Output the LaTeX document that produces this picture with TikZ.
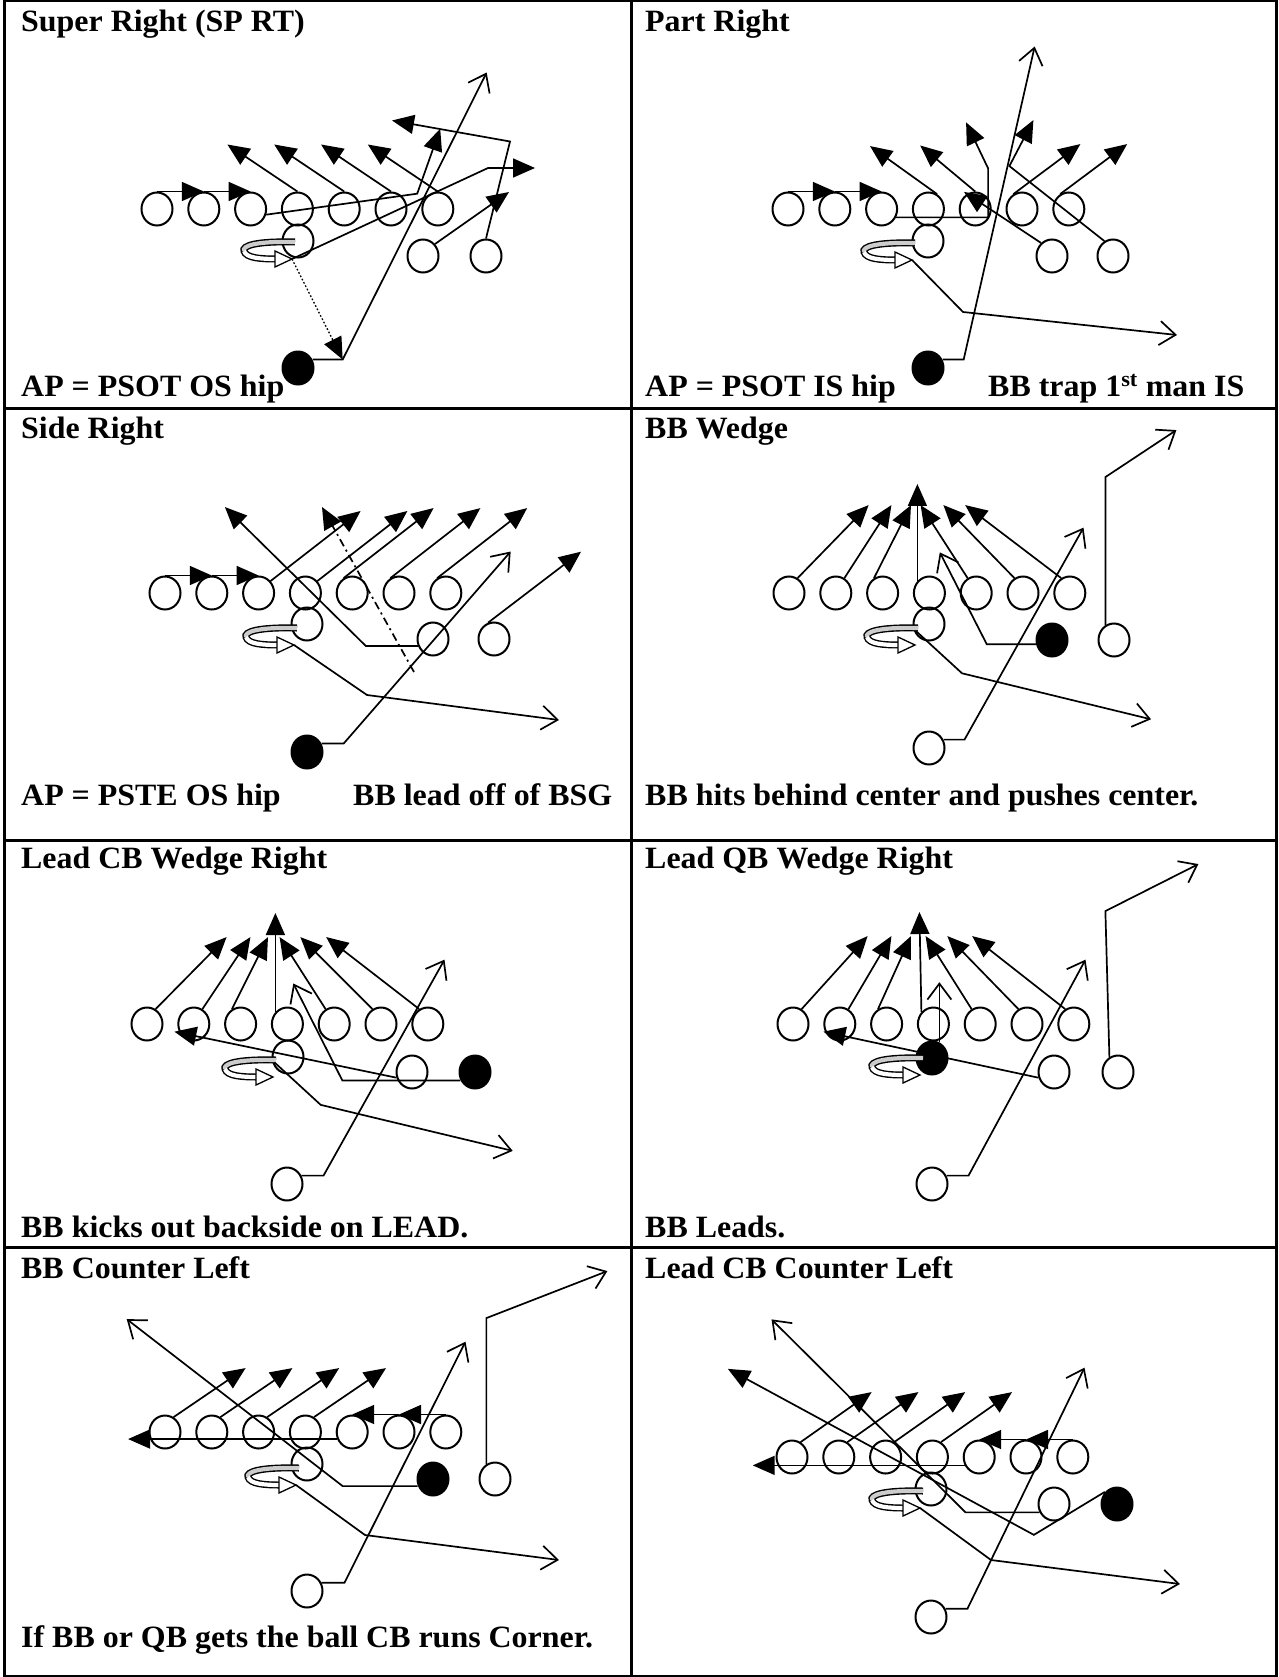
\documentclass[tikz,border=0pt]{standalone}
\usepackage{fontspec}
\setmainfont{Liberation Serif}[FakeStretch=1.03]
\usetikzlibrary{arrows.meta,shapes.geometric}

\begin{document}
\begin{tikzpicture}[
    x=1pt, y=-1pt,
    player/.style={ellipse, draw, line width=2pt, minimum width=31pt, minimum height=33pt, inner sep=0pt},
    ball/.style={ellipse, fill, minimum width=33pt, minimum height=35pt, inner sep=0pt},
    run/.style={line width=1.7pt, -{Straight Barb[length=16pt,width=24pt]}},
    block/.style={line width=1.7pt, -{Triangle[length=22pt,width=19pt]}},
    ptext/.style={anchor=base west, inner sep=0pt, font={\fontsize{31}{34}\selectfont\bfseries}},
    spin/.pic={
        \draw[line width=7pt] (3,-17) .. controls (-37,-18) and (-50,-13) .. (-48,-8)
            .. controls (-46,-1) and (-32,0) .. (-15,0);
        \draw[line width=4.2pt, gray!40] (3,-17) .. controls (-37,-18) and (-50,-13) .. (-48,-8);
        \draw[line width=4.2pt, white] (-48,-8) .. controls (-46,-1) and (-32,0) .. (-15,0);
        \draw[line width=1.3pt, fill=white] (-17,-8) -- (0,0) -- (-17,8) -- cycle;
    }
    ]
  \useasboundingbox (0,0) rectangle (1278,1677);
  % frame
  \draw[line width=3pt] (4,1) rectangle (1276,1676);
  \draw[line width=3pt] (631,1) -- (631,1676);
  \foreach \y in {408,840,1247} \draw[line width=3pt] (4,\y) -- (1276,\y);

  % texts
  \node[ptext] at (21,32) {Super Right (SP RT)};
  \node[ptext] at (645,32) {Part Right};
  \node[ptext] at (21,396) {AP = PSOT OS hip};
  \node[ptext] at (645,396) {AP = PSOT IS hip};
  \node[ptext] at (988,396) {BB trap 1\textsuperscript{st} man IS};
  \node[ptext] at (21,438) {Side Right};
  \node[ptext] at (645,438) {BB Wedge};
  \node[ptext] at (21,805) {AP = PSTE OS hip};
  \node[ptext] at (353,805) {BB lead off of BSG};
  \node[ptext] at (645,805) {BB hits behind center and pushes center.};
  \node[ptext] at (21,868) {Lead CB Wedge Right};
  \node[ptext] at (645,868) {Lead QB Wedge Right};
  \node[ptext] at (21,1237) {BB kicks out backside on LEAD.};
  \node[ptext] at (645,1237) {BB Leads.};
  \node[ptext] at (21,1278) {BB Counter Left};
  \node[ptext] at (645,1278) {Lead CB Counter Left};
  \node[ptext] at (21,1647) {If BB or QB gets the ball CB runs Corner.};

  % Super Right
  \foreach \i in {1,...,7} \node[player] (A\i) at ({157+46.8*(\i-1)},209) {};
  \node[player] (AQ) at (298,241) {};
  \node[player] (AB1) at (423,256) {};
  \node[player] (AB2) at (486,256) {};
  \node[ball] (AF) at (298,368) {};
  \coordinate (AT) at (292,259);
  \draw[block] (A1.north) -- (A2.north);
  \draw[block] (A2.north) -- (A3.north);
  \foreach \i in {4,...,7} \draw[block] (A\i.north) -- ++(-70,-47);
  \draw[block] (A3.-20) -- ++(151,-21) -- ++(23,-65);
  \draw[block] (AB1.45) -- ++(74,-52);
  \draw[block] (AB2.north) -- ++(24,-97) -- ++(-118,-21);
  \draw[block] (AT) -- ++(196,-91) -- ++(47,0);
  \draw[run] (AF.30) -- ++(30,0) coordinate (Ac) -- ++(144,-287);
  \draw[block, dotted, line width=1.3pt] (AT) -- (Ac);
  \pic at (AT) {spin};

  % Part Right
  \foreach \i in {1,...,7} \node[player] (B\i) at ({788+46.8*(\i-1)},209) {};
  \node[player] (BQ) at (928,241) {};
  \node[player] (BB1) at (1052,256) {};
  \node[player] (BB2) at (1113,256) {};
  \node[ball] (BF) at (928,368) {};
  \coordinate (BT) at (912,260);
  \draw[block] (B1.north) -- (B2.north);
  \draw[block] (B2.north) -- (B3.north);
  \draw[block] (B4.60) -- ++(-67,-48);
  \draw[block] (B5.north) -- ++(-55,-46);
  \draw[block] (B3.-30) -- ++(92,0) -- ++(0,-49) -- ++(-22,-46);
  \draw[block] (BB2.120) -- ++(-95,-75) -- ++(24,-46);
  \draw[block] (B6.120) -- ++(67,-50);
  \draw[block] (B7.120) -- ++(67,-50);
  \draw[block] (BB1.130) -- ++(-77,-51);
  \draw[run] (BF.30) -- ++(21,0) -- ++(71,-313);
  \draw[run] (BT) -- ++(51,52) -- ++(214,23);
  \pic at (BT) {spin};

  % Side Right
  \foreach \i in {1,...,7} \node[player] (C\i) at ({165+46.8*(\i-1)},593) {};
  \node[player] (CQ) at (307,624) {};
  \node[player] (CB1) at (433,639) {};
  \node[player] (CB2) at (494,639) {};
  \node[ball] (CF) at (307,752) {};
  \coordinate (CT) at (294,645);
  \draw[block] (C1.north) -- (C2.north);
  \draw[block] (C2.north) -- (C3.north);
  \foreach \a in {C3.45,C4.45,C5.120,C6.120,C7.120} \draw[block] (\a) -- ++(90,-70);
  \draw[block, dash pattern=on 8pt off 4pt on 2pt off 4pt] ([shift={(-19,33)}]CB1.center) -- ++(-92,-165);
  \draw[block] (CB1.-155) -- ++(-52,0) -- ++(-141,-139);
  \draw[block] (CB2.110) -- ++(93,-71);
  \draw[run] (CF.30) -- ++(22,0) -- ++(167,-192);
  \draw[run] (CT) -- ++(73,50) -- ++(192,25);
  \pic at (CT) {spin};

  % BB Wedge
  \foreach \i in {1,...,7} \node[player] (D\i) at ({789+46.8*(\i-1)},593) {};
  \node[player] (DQ) at (929,624) {};
  \node[ball] (DF) at (1052,640) {};
  \node[player] (DB1) at (1114,640) {};
  \node[player] (DB2) at (929,748) {};
  \coordinate (DT) at (915,645);
  \draw[block] (D1.60) -- ++(71,-73);
  \draw[block] (D2.60) -- ++(47,-73);
  \draw[block] (D3.120) -- ++(37,-73);
  \draw[block] (D4.135) -- ++(0,-97);
  \draw[block] (D5.120) -- ++(-47,-73);
  \draw[block] (D6.120) -- ++(-71,-73);
  \draw[block] (D7.120) -- ++(-96,-73);
  \draw[run] (DF.-165) -- ++(-49,0) -- ++(-47,-92);
  \draw[run] (DB1.120) -- ++(0,-148) -- ++(71,-47);
  \draw[run] (DB2.30) -- ++(21,0) -- ++(119,-212);
  \draw[run] (DQ.-165) -- ++(49,45) -- ++(189,46);
  \pic at (DT) {spin};

  % Lead CB Wedge Right
  \foreach \i in {1,...,7} \node[player] (E\i) at ({147+46.8*(\i-1)},1024) {};
  \node[player] (EQ) at (288,1057) {};
  \node[player] (EB1) at (412,1072) {};
  \node[ball] (EF) at (475,1072) {};
  \node[player] (EB2) at (287,1184) {};
  \coordinate (ET) at (273,1077);
  \draw[block] (E1.60) -- ++(71,-72);
  \draw[block] (E2.60) -- ++(48,-72);
  \draw[block] (E3.120) -- ++(36,-72);
  \draw[block] (E4.135) -- ++(0,-99);
  \draw[block] (E5.120) -- ++(-46,-72);
  \draw[block] (E6.120) -- ++(-72,-72);
  \draw[block] (E7.120) -- ++(-93,-72);
  \draw[run] (EF.-150) -- ++(-118,0) -- ++(-49,-97);
  \draw[block] (EB1.-160) -- ++(-222,-46);
  \draw[run] (EB2.30) -- ++(22,0) -- ++(121,-216);
  \draw[run] (EQ.-170) -- ++(49,45) -- ++(192,46);
  \pic at (ET) {spin};

  % Lead QB Wedge Right
  \foreach \i in {1,...,7} \node[player] (F\i) at ({793+46.8*(\i-1)},1024) {};
  \node[ball] (FQ) at (932,1058) {};
  \node[player] (FB1) at (1054,1072) {};
  \node[player] (FB2) at (1118,1072) {};
  \node[player] (FB3) at (932,1184) {};
  \coordinate (FT) at (920,1075);
  \draw[block] (F1.60) -- ++(66,-73);
  \draw[block] (F2.60) -- ++(43,-73);
  \draw[block] (F3.120) -- ++(33,-73);
  \draw[block] (F4.135) -- ++(-2,-100);
  \draw[block] (F5.120) -- ++(-46,-73);
  \draw[block] (F6.120) -- ++(-71,-73);
  \draw[block] (F7.120) -- ++(-93,-73);
  \draw[run] (FQ.65) -- ++(0,-60);
  \draw[block] (FB1.-160) -- ++(-215,-46);
  \draw[run] (FB2.120) -- ++(-4,-146) -- ++(93,-47);
  \draw[run] (FB3.30) -- ++(22,0) -- ++(117,-216);
  \pic at (FT) {spin};

  % BB Counter Left
  \foreach \i in {1,...,7} \node[player] (G\i) at ({165+46.8*(\i-1)},1432) {};
  \node[player] (GQ) at (307,1464) {};
  \node[ball] (GF) at (433,1479) {};
  \node[player] (GB1) at (495,1479) {};
  \node[player] (GB2) at (307,1591) {};
  \coordinate (GT) at (296,1485);
  \foreach \i in {1,...,4} \draw[block] (G\i.60) -- ++(72,-49);
  \draw[block] (G7.north) -- (G6.north);
  \draw[block] (G6.north) -- (G5.north);
  \draw[block] (G5.-155) -- ++(-209,0);
  \draw[run] (GF.-155) -- ++(-75,0) -- ++(-216,-167);
  \draw[run] (GB1.120) -- ++(0,-146) -- ++(121,-47);
  \draw[run] (GB2.30) -- ++(23,0) -- ++(121,-241);
  \draw[run] (GT) -- ++(69,50) -- ++(194,25);
  \pic at (GT) {spin};

  % Lead CB Counter Left
  \foreach \i in {1,...,7} \node[player] (H\i) at ({792+46.8*(\i-1)},1457) {};
  \node[player] (HQ) at (931,1489) {};
  \node[player] (HB1) at (1054,1504) {};
  \node[ball] (HF) at (1117,1504) {};
  \node[player] (HB2) at (931,1617) {};
  \coordinate (HT) at (920,1508);
  \foreach \i in {1,...,4} \draw[block] (H\i.60) -- ++(71,-50);
  \draw[block] (H7.north) -- (H6.north);
  \draw[block] (H6.north) -- (H5.north);
  \draw[block] (H5.-150) -- ++(-212,0);
  \draw[run] (HB1.-150) -- ++(-74,0) -- ++(-194,-193);
  \draw[block] (HF.135) -- ++(-71,43) -- ++(-306,-166);
  \draw[run] (HB2.30) -- ++(22,0) -- ++(117,-241);
  \draw[run] (HT) -- ++(71,52) -- ++(189,24);
  \pic at (HT) {spin};
\end{tikzpicture}
\end{document}
